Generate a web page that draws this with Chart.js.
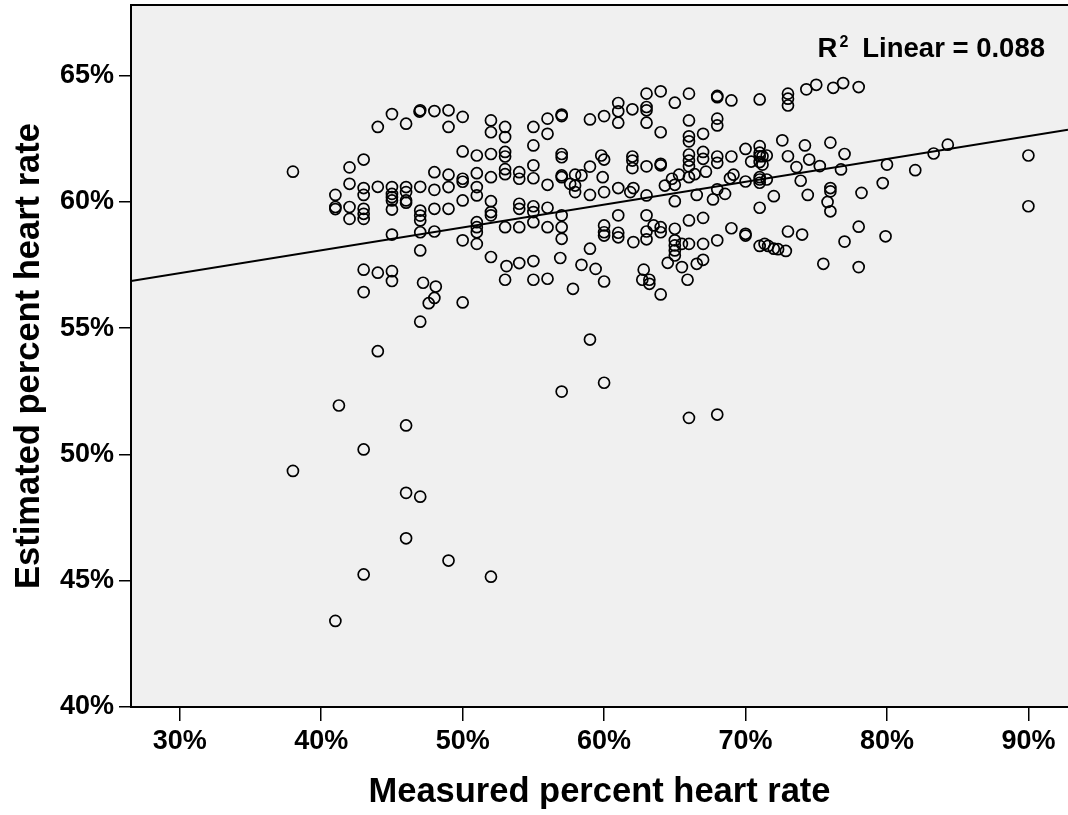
<!DOCTYPE html>
<html>
<head>
<meta charset="utf-8">
<script src="https://cdn.jsdelivr.net/npm/chart.js@4.4.1/dist/chart.umd.min.js"></script>
<style>
  html, body { margin: 0; padding: 0; background: #fff; }
</style>
</head>
<body>
<canvas id="scatter" width="1068" height="815"></canvas>
<script>
// measured % vs estimated % heart rate, one pair per subject
var readings = [
  [38, 61.2], [38, 49.35],
  [41, 60.28], [41, 59.8], [41, 59.72], [41.25, 51.94], [41, 43.41],
  [42, 61.37], [42, 60.72], [42, 59.8], [42, 59.33],
  [43, 61.68], [43, 60.55], [43, 60.28], [43, 59.73], [43, 59.53], [43, 59.33], [43, 57.32], [43, 56.43], [43, 50.2], [43, 45.25],
  [44, 62.97], [44, 60.6], [44, 57.2], [44, 54.09],
  [45, 63.48], [45, 60.59], [45, 60.32], [45, 60.19], [45, 60.06], [45, 59.7], [45, 58.71], [45, 57.26], [45, 56.87],
  [46, 63.1], [46, 60.59], [46, 60.39], [46, 60.06], [46, 59.97], [46, 51.15], [46, 48.48], [46, 46.68],
  [47, 63.63], [46.95, 63.58], [47, 60.6], [47, 59.66], [47, 59.46], [47, 59.27], [47, 58.8], [47, 58.08], [47.2, 56.8], [47.6, 55.99], [47, 55.26], [47, 48.33],
  [48, 63.6], [48, 61.18], [48, 60.48], [48, 59.73], [48, 58.83], [48.1, 56.65], [48, 56.2],
  [49, 63.63], [49, 62.97], [49, 61.08], [49, 60.59], [49, 59.73], [49, 45.8],
  [50, 63.37], [50, 62.0], [50, 60.92], [50, 60.8], [50, 60.06], [50, 58.48], [50, 56.02],
  [51, 61.84], [51, 61.14], [51, 60.59], [51, 60.26], [51, 59.2], [51, 59.0], [51, 58.8], [51, 58.34],
  [52, 63.23], [52, 62.76], [52, 61.9], [52, 60.98], [52, 60.03], [52, 59.6], [52, 59.47], [52, 57.82], [52, 45.16],
  [53, 62.97], [53, 62.57], [53, 61.98], [53, 61.8], [53, 61.3], [53, 61.1], [53, 59.0], [53.1, 57.46], [53, 56.92],
  [54, 61.18], [54, 60.92], [54, 59.93], [54, 59.73], [54, 59.0], [54, 57.58],
  [55, 62.97], [55, 62.24], [55, 61.45], [55, 60.94], [55, 59.83], [55, 59.6], [55, 59.2], [55, 57.66], [55, 56.92],
  [56, 63.3], [56, 62.7], [56, 60.68], [56, 59.77], [56, 59.0], [56, 56.96],
  [57, 63.46], [57, 63.4], [57, 61.9], [57, 61.77], [57, 61.05], [57, 60.98], [57, 59.47], [57, 59.0], [57, 58.54], [56.9, 57.78], [57, 52.49],
  [57.6, 60.72], [57.8, 56.56],
  [57.95, 61.08], [58.4, 61.05], [57.95, 60.65], [57.95, 60.39], [58.4, 57.51],
  [59, 63.27], [59, 61.4], [59, 60.28], [59, 58.15], [59.4, 57.35], [59, 54.55],
  [59.8, 61.84], [59.9, 60.98],
  [60, 63.4], [60, 61.68], [60, 60.39], [60, 59.07], [60, 58.8], [60, 58.67], [60, 56.85], [60, 52.84],
  [61, 63.92], [61, 63.59], [61, 63.14], [61, 60.55], [61, 59.47], [61, 58.78], [61, 58.6],
  [62, 63.67], [62, 61.8], [62, 61.64], [62, 61.34], [61.85, 60.39], [62.07, 60.55], [62.07, 58.41],
  [62.8, 57.32], [62.7, 56.92], [63.2, 56.92], [63.2, 56.76],
  [63, 64.29], [63, 63.76], [63, 63.63], [63, 63.14], [63, 61.41], [63, 60.26], [63, 59.47], [63, 58.83], [63, 58.52], [63.5, 59.07],
  [64, 64.38], [64, 62.76], [64, 61.51], [64, 61.45], [64, 59.0], [64, 58.8], [64.3, 60.65], [64, 56.34], [64.5, 57.59], [64.8, 60.92],
  [65, 63.93], [65, 60.68], [65, 60.03], [65, 58.94], [65, 58.48], [65, 58.28], [65, 58.08], [65, 57.88], [65.3, 61.08], [65.5, 58.34], [65.5, 57.42],
  [66, 64.29], [66, 63.23], [66, 62.6], [66, 62.4], [66, 61.88], [66, 61.64], [66, 61.41], [66, 60.98], [66, 59.27], [66, 58.34], [65.9, 56.92], [66, 51.45],
  [66.4, 61.1], [66.55, 60.28], [66.55, 57.55],
  [67, 62.7], [67, 61.98], [67, 61.71], [67.2, 61.2], [67, 59.37], [67, 58.34], [67, 57.71],
  [68, 64.2], [68, 64.15], [68, 63.3], [68, 63.03], [68, 61.8], [68, 61.55], [68, 60.5], [67.7, 60.1], [68.55, 60.32], [68, 58.48], [68, 51.58],
  [69, 64.02], [69, 61.8], [69.15, 61.08], [68.9, 60.94], [69, 58.96],
  [70, 62.1], [70.4, 61.6], [70, 60.81], [70, 58.74], [70, 58.67],
  [71, 64.06], [71, 62.21], [71, 61.95], [71, 61.81], [71.2, 61.81], [71.5, 61.84], [71, 61.58], [71.2, 61.48],
  [71, 60.98], [71, 60.89], [71, 60.76], [71.5, 60.89], [71, 59.77], [71, 58.26], [71.35, 58.34], [71.6, 58.26],
  [72, 60.23], [72, 58.15], [72.3, 58.13], [72.6, 62.44], [72.85, 58.06],
  [73, 64.29], [73, 64.09], [73, 63.82], [73, 61.81], [73, 58.83], [73.6, 61.38], [73.9, 60.84],
  [74.3, 64.46], [74.2, 62.24], [74.5, 61.68], [74.4, 60.28], [74, 58.71],
  [75, 64.64], [75.25, 61.42], [75.5, 57.55],
  [76.2, 64.52], [76, 62.35], [76, 60.55], [76, 60.42], [75.8, 60.0], [76, 59.63],
  [76.9, 64.71], [77, 61.9], [76.75, 61.29], [77, 58.43],
  [78, 64.55], [78.2, 60.36], [78, 59.02], [78, 57.42],
  [79.7, 60.75], [79.9, 58.64], [80, 61.48],
  [82, 61.26], [83.3, 61.92], [84.3, 62.27],
  [90, 61.84], [90, 59.83]
];

var xTicks = [30, 40, 50, 60, 70, 80, 90];
var yTicks = [40, 45, 50, 55, 60, 65];
var xRange = [26.55, 92.8];
var yRange = [40, 67.8];

// linear fit shown on the plot
var fitIntercept = 54.47;
var fitSlope = 0.0904;
var rSquared = '0.088';

var fontFamily = 'Arial, "Liberation Sans", sans-serif';

var points = readings.map(function (r) { return { x: r[0], y: r[1] }; });
var fitLine = xRange.map(function (x) { return { x: x, y: fitIntercept + fitSlope * x }; });

var plotFrame = {
  id: 'plotFrame',
  beforeDraw: function (chart) {
    var a = chart.chartArea, ctx = chart.ctx;
    ctx.save();
    ctx.fillStyle = '#f0f0f0';
    ctx.fillRect(a.left, a.top, a.right - a.left, a.bottom - a.top);
    ctx.strokeStyle = '#000';
    ctx.lineWidth = 2;
    ctx.beginPath();
    ctx.moveTo(a.left, a.top);
    ctx.lineTo(a.right, a.top);
    ctx.stroke();
    ctx.restore();
  },
  afterDraw: function (chart) {
    var ctx = chart.ctx;
    var rest = 'Linear = ' + rSquared;
    var right = 1045, base = 57;
    ctx.save();
    ctx.fillStyle = '#000';
    ctx.textBaseline = 'alphabetic';
    ctx.textAlign = 'left';
    ctx.font = 'bold 27.5px ' + fontFamily;
    var wRest = ctx.measureText(rest).width;
    var restX = right - wRest;
    ctx.fillText(rest, restX, base);
    ctx.font = 'bold 16px ' + fontFamily;
    var wSup = ctx.measureText('2').width;
    var supX = restX - 14 - wSup;
    ctx.fillText('2', supX, base - 10);
    ctx.font = 'bold 27.5px ' + fontFamily;
    var wR = ctx.measureText('R').width;
    ctx.fillText('R', supX - 2 - wR, base);
    ctx.restore();
  }
};

function axisFont(size) {
  return { family: fontFamily, size: size, weight: 'bold' };
}

new Chart(document.getElementById('scatter'), {
  type: 'scatter',
  data: {
    datasets: [
      {
        type: 'line',
        data: fitLine,
        borderColor: '#000',
        borderWidth: 2,
        pointRadius: 0,
        fill: false
      },
      {
        data: points,
        pointStyle: 'circle',
        pointRadius: 5.5,
        pointBorderWidth: 1.7,
        pointBorderColor: '#000',
        pointBackgroundColor: 'rgba(0,0,0,0)'
      }
    ]
  },
  options: {
    responsive: false,
    animation: false,
    layout: { autoPadding: false, padding: { top: 5, right: 0, left: 0, bottom: 0 } },
    plugins: {
      legend: { display: false },
      tooltip: { enabled: false }
    },
    scales: {
      x: {
        type: 'linear',
        min: xRange[0],
        max: xRange[1],
        afterBuildTicks: function (s) { s.ticks = xTicks.map(function (v) { return { value: v }; }); },
        afterFit: function (s) { s.height = 108; s.paddingLeft = 0; s.paddingRight = 0; },
        grid: { drawOnChartArea: false, drawTicks: true, tickLength: 14, color: '#000', lineWidth: 1.5 },
        border: { display: true, color: '#000', width: 2 },
        ticks: {
          color: '#000',
          font: axisFont(27),
          padding: 4,
          maxRotation: 0,
          autoSkip: false,
          callback: function (v) { return v + '%'; }
        },
        title: {
          display: true,
          text: 'Measured percent heart rate',
          color: '#000',
          font: axisFont(34.5),
          padding: { top: 0, bottom: 2 }
        }
      },
      y: {
        type: 'linear',
        min: yRange[0],
        max: yRange[1],
        afterBuildTicks: function (s) { s.ticks = yTicks.map(function (v) { return { value: v }; }); },
        afterFit: function (s) { s.width = 131; s.paddingTop = 0; s.paddingBottom = 0; },
        grid: { drawOnChartArea: false, drawTicks: true, tickLength: 12, color: '#000', lineWidth: 1.5 },
        border: { display: true, color: '#000', width: 2 },
        ticks: {
          color: '#000',
          font: axisFont(27),
          padding: 5,
          autoSkip: false,
          callback: function (v) { return v + '%'; }
        },
        title: {
          display: true,
          text: 'Estimated percent heart rate',
          color: '#000',
          font: axisFont(34.5),
          padding: { top: 9, bottom: 0 }
        }
      }
    }
  },
  plugins: [plotFrame]
});
</script>
</body>
</html>
